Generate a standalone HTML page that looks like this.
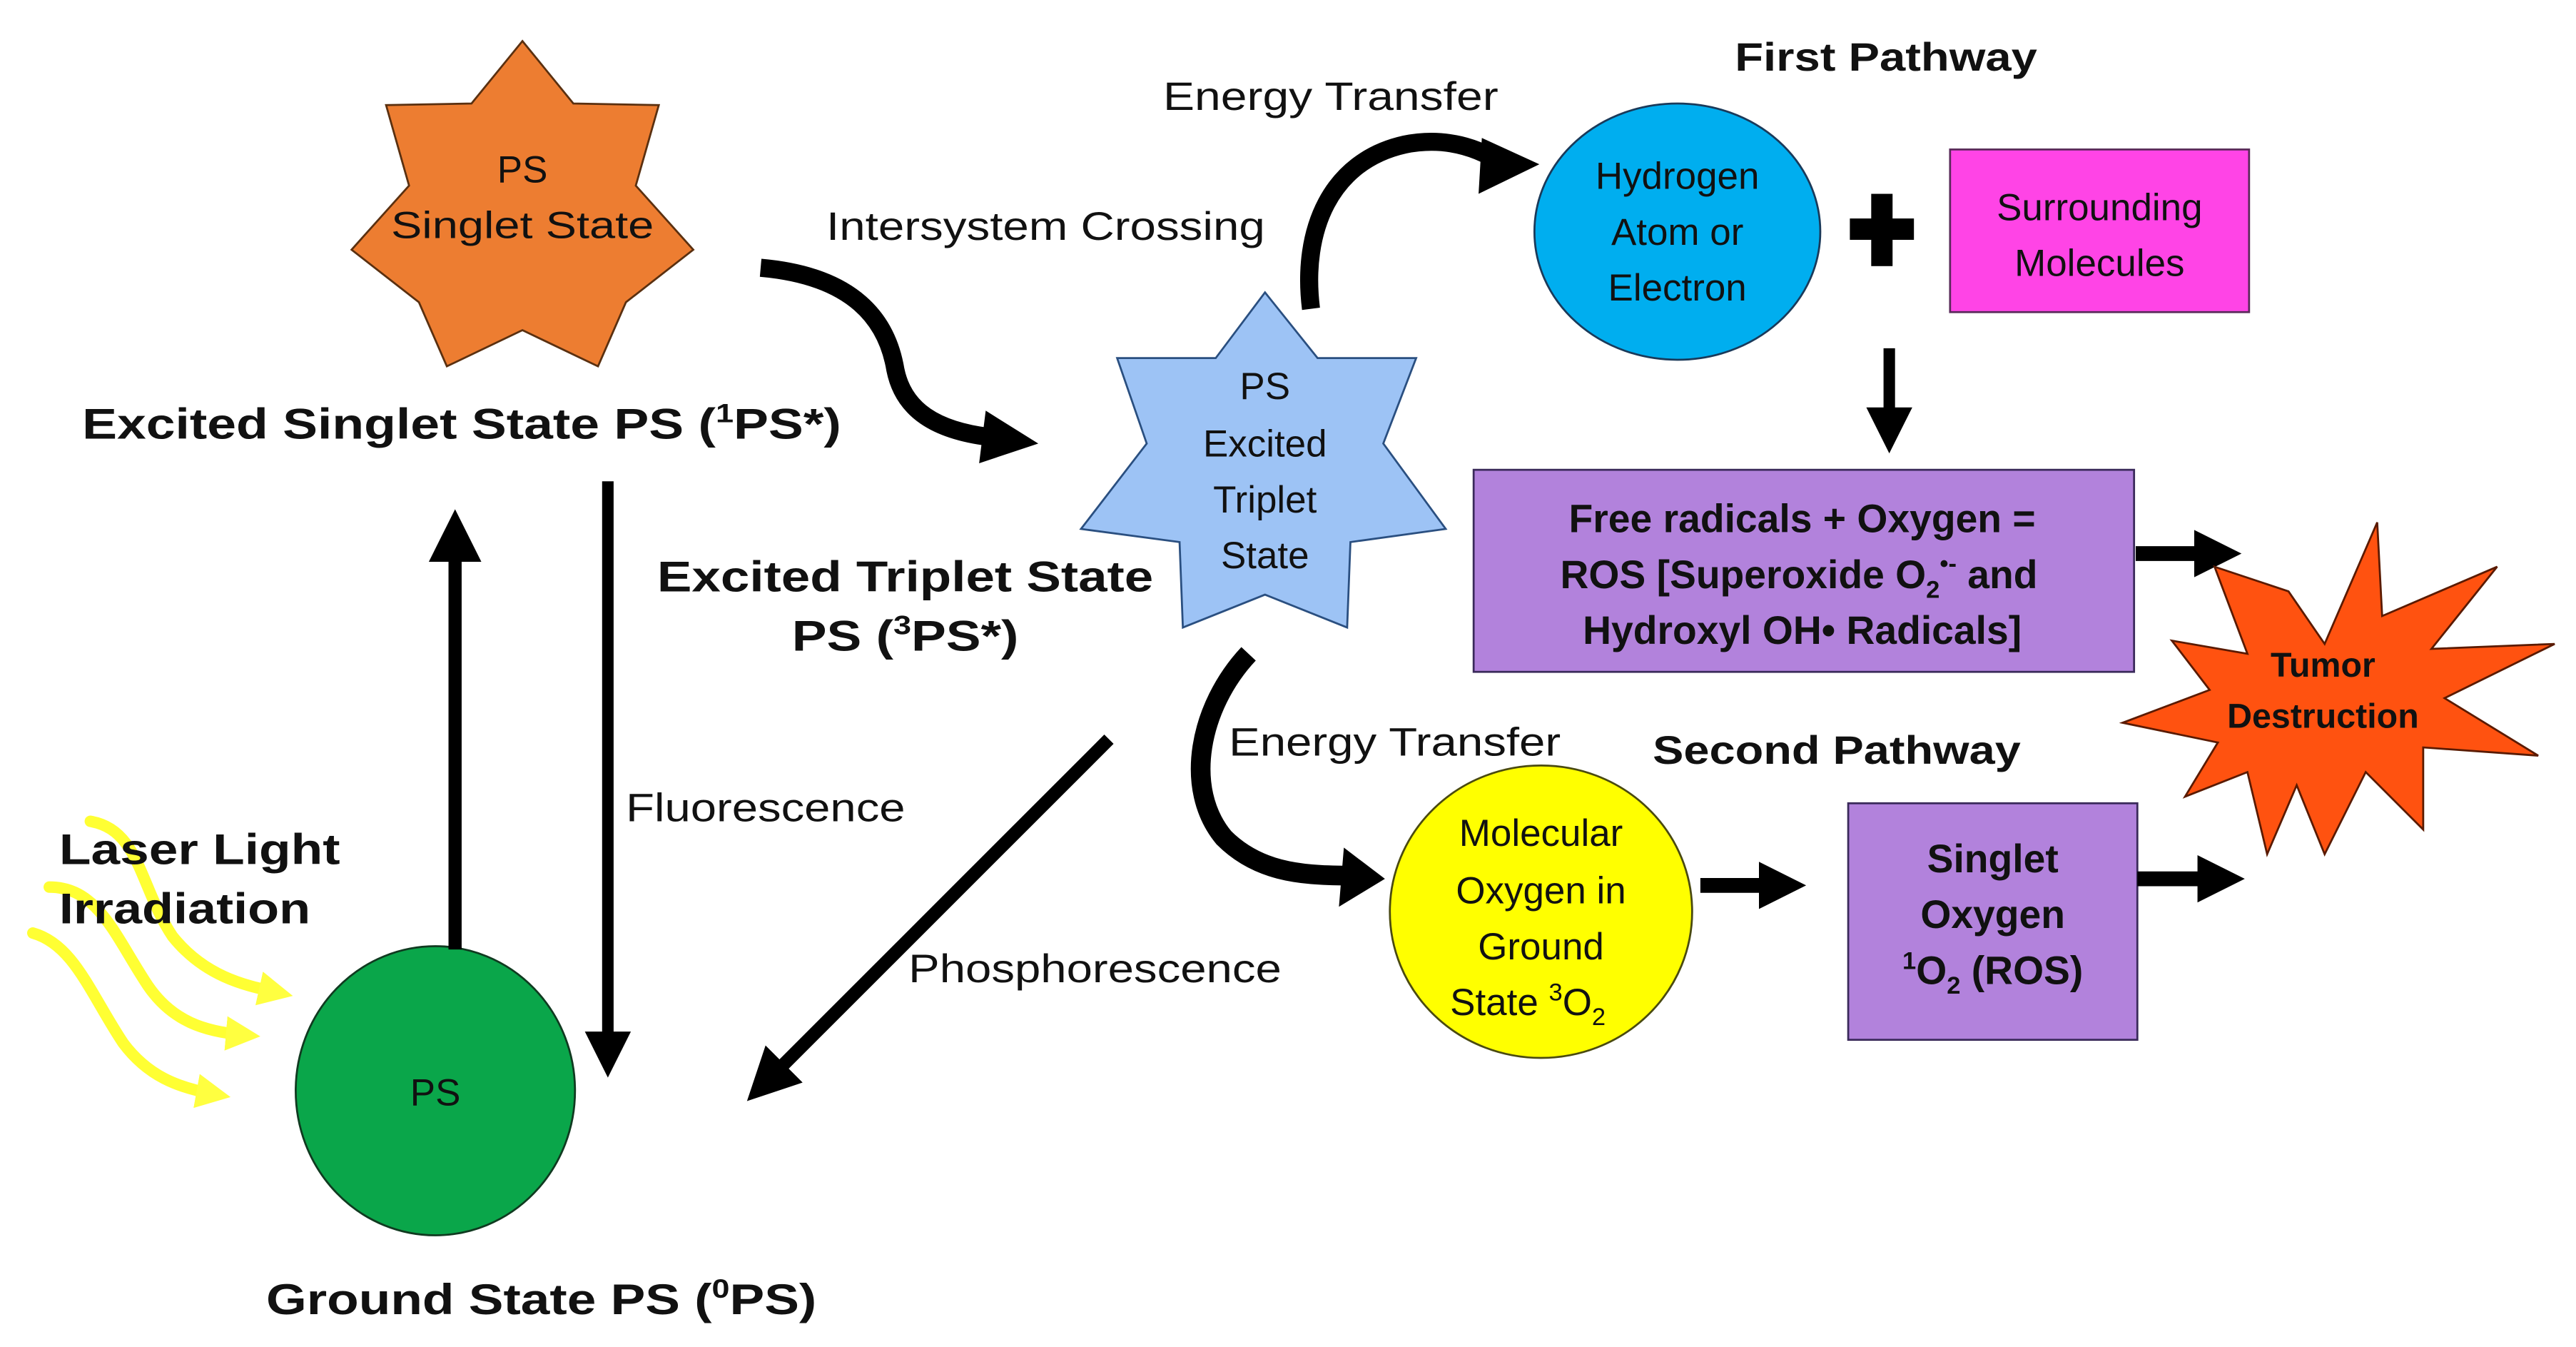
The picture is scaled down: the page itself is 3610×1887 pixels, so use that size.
<!DOCTYPE html>
<html><head><meta charset="utf-8"><style>
html,body{margin:0;padding:0;background:#fff;}
svg{display:block;}
text{font-family:"Liberation Sans",Arial,sans-serif;fill:#111;}
.b{font-weight:bold;}
</style></head><body>
<svg width="3610" height="1887" viewBox="0 0 1568 820" preserveAspectRatio="none" xmlns="http://www.w3.org/2000/svg">
<defs>
<marker id="ah" markerWidth="4" markerHeight="4" refX="2" refY="2" orient="auto" markerUnits="strokeWidth">
<path d="M0,0 L4,2 L0,4 z" fill="#000"/></marker>
<marker id="ah2" markerWidth="3.2" markerHeight="3.2" refX="1.6" refY="1.6" orient="auto" markerUnits="strokeWidth">
<path d="M0,0 L3.2,1.6 L0,3.2 z" fill="#000"/></marker>
<marker id="ay" markerWidth="3" markerHeight="3" refX="1.5" refY="1.5" orient="auto" markerUnits="strokeWidth">
<path d="M0,0 L3,1.5 L0,3 z" fill="#ffff40"/></marker>
</defs>

<!-- laser wavy arrows -->
<g fill="none" stroke="#ffff33" stroke-width="7" stroke-linecap="round">
<path d="M55,500 C85,505 85,540 105,570 C125,595 150,600 168,604" marker-end="url(#ay)"/>
<path d="M30,540 C60,540 70,570 90,600 C105,622 125,628 148,630" marker-end="url(#ay)"/>
<path d="M20,568 C45,575 55,605 75,635 C90,655 108,662 130,666" marker-end="url(#ay)"/>
</g>

<!-- Orange heptagram -->
<polygon fill="#ed7d31" stroke="#5a3010" stroke-width="1.2" points="318,25 349,63 401,64 387,113 422,152 381,184 364,223 318,201 272,223 255,184 214,152 249,113 235,64 287,63"/>
<text x="318" y="111" font-size="23" text-anchor="middle">PS</text>
<text x="318" y="145" font-size="23" text-anchor="middle" textLength="160" lengthAdjust="spacingAndGlyphs">Singlet State</text>

<!-- Blue heptagram -->
<polygon fill="#9dc3f5" stroke="#2a4f80" stroke-width="1.2" points="770,178 802,218 862,218 842,270 880,322 822,330 820,382 770,362 720,382 718,330 658,322 698,270 680,218 740,218"/>
<text x="770" y="243" font-size="23" text-anchor="middle">PS</text>
<text x="770" y="278" font-size="23" text-anchor="middle">Excited</text>
<text x="770" y="312" font-size="23" text-anchor="middle">Triplet</text>
<text x="770" y="346" font-size="23" text-anchor="middle">State</text>

<!-- labels -->
<text class="b" x="50" y="267" font-size="26" textLength="462" lengthAdjust="spacingAndGlyphs">Excited Singlet State PS (<tspan font-size="16" dy="-10">1</tspan><tspan dy="10">PS*)</tspan></text>
<text x="503" y="146" font-size="24" textLength="267" lengthAdjust="spacingAndGlyphs">Intersystem Crossing</text>
<text x="708" y="67" font-size="24" textLength="204" lengthAdjust="spacingAndGlyphs">Energy Transfer</text>
<text class="b" x="1056" y="43" font-size="24" textLength="184" lengthAdjust="spacingAndGlyphs">First Pathway</text>
<text class="b" x="400" y="360" font-size="26" textLength="302" lengthAdjust="spacingAndGlyphs">Excited Triplet State</text>
<text class="b" x="482" y="396" font-size="26" textLength="138" lengthAdjust="spacingAndGlyphs">PS (<tspan font-size="16" dy="-10">3</tspan><tspan dy="10">PS*)</tspan></text>
<text x="748" y="460" font-size="24" textLength="202" lengthAdjust="spacingAndGlyphs">Energy Transfer</text>
<text class="b" x="1006" y="465" font-size="24" textLength="224" lengthAdjust="spacingAndGlyphs">Second Pathway</text>
<text x="381" y="500" font-size="24" textLength="170" lengthAdjust="spacingAndGlyphs">Fluorescence</text>
<text x="553" y="598" font-size="24" textLength="227" lengthAdjust="spacingAndGlyphs">Phosphorescence</text>
<text class="b" x="162" y="800" font-size="26" textLength="335" lengthAdjust="spacingAndGlyphs">Ground State PS (<tspan font-size="16" dy="-10">0</tspan><tspan dy="10">PS)</tspan></text>
<text class="b" x="36" y="526" font-size="26" textLength="171" lengthAdjust="spacingAndGlyphs">Laser Light</text>
<text class="b" x="36" y="562" font-size="26" textLength="153" lengthAdjust="spacingAndGlyphs">Irradiation</text>

<!-- Hydrogen circle -->
<ellipse cx="1021" cy="141" rx="87" ry="78" fill="#00aeef" stroke="#1a3a5a" stroke-width="1.2"/>
<text x="1021" y="115" font-size="23" text-anchor="middle">Hydrogen</text>
<text x="1021" y="149" font-size="23" text-anchor="middle">Atom or</text>
<text x="1021" y="183" font-size="23" text-anchor="middle">Electron</text>

<!-- plus -->
<rect x="1139" y="118" width="13" height="44" fill="#000"/>
<rect x="1126" y="133" width="39" height="13" fill="#000"/>

<!-- magenta -->
<rect x="1187" y="91" width="182" height="99" fill="#ff44e6" stroke="#5a2a5a" stroke-width="1.2"/>
<text x="1278" y="134" font-size="23" text-anchor="middle">Surrounding</text>
<text x="1278" y="168" font-size="23" text-anchor="middle">Molecules</text>

<!-- down arrow -->
<line x1="1150" y1="212" x2="1150" y2="262" stroke="#000" stroke-width="7" marker-end="url(#ah)"/>

<!-- purple 1 -->
<rect x="897" y="286" width="402" height="123" fill="#b282dc" stroke="#3a2a5a" stroke-width="1.2"/>
<text class="b" x="1097" y="324" font-size="24" text-anchor="middle">Free radicals + Oxygen =</text>
<text class="b" x="1095" y="358" font-size="24" text-anchor="middle">ROS  [Superoxide O<tspan font-size="15" dy="6">2</tspan><tspan font-size="15" dy="-16">•-</tspan><tspan dy="10"> and</tspan></text>
<text class="b" x="1097" y="392" font-size="24" text-anchor="middle">Hydroxyl OH• Radicals]</text>

<line x1="1300" y1="337" x2="1350" y2="337" stroke="#000" stroke-width="9" marker-end="url(#ah2)"/>

<!-- tumor starburst -->
<polygon fill="#ff5210" stroke="#5a1a00" stroke-width="1.2" points="1393,360 1415,392 1447,318 1450,375 1520,345 1480,395 1555,392 1488,425 1545,460 1475,455 1475,505 1440,470 1415,520 1398,478 1380,520 1368,470 1330,485 1350,452 1292,440 1345,420 1322,390 1368,398 1348,345"/>
<text class="b" x="1414" y="412" font-size="21" text-anchor="middle">Tumor</text>
<text class="b" x="1414" y="443" font-size="21" text-anchor="middle">Destruction</text>

<!-- yellow circle -->
<ellipse cx="938" cy="555" rx="92" ry="89" fill="#ffff00" stroke="#4a4a10" stroke-width="1.2"/>
<text x="938" y="515" font-size="23" text-anchor="middle">Molecular</text>
<text x="938" y="550" font-size="23" text-anchor="middle">Oxygen in</text>
<text x="938" y="584" font-size="23" text-anchor="middle">Ground</text>
<text x="930" y="618" font-size="23" text-anchor="middle">State <tspan font-size="15" dy="-9">3</tspan><tspan dy="9">O</tspan><tspan font-size="15" dy="6">2</tspan></text>

<line x1="1035" y1="539" x2="1085" y2="539" stroke="#000" stroke-width="9" marker-end="url(#ah2)"/>

<!-- purple 2 -->
<rect x="1125" y="489" width="176" height="144" fill="#b282dc" stroke="#3a2a5a" stroke-width="1.2"/>
<text class="b" x="1213" y="531" font-size="24" text-anchor="middle">Singlet</text>
<text class="b" x="1213" y="565" font-size="24" text-anchor="middle">Oxygen</text>
<text class="b" x="1213" y="599" font-size="24" text-anchor="middle"><tspan font-size="15" dy="-9">1</tspan><tspan dy="9">O</tspan><tspan font-size="15" dy="6">2</tspan><tspan dy="-6"> (ROS)</tspan></text>

<line x1="1301" y1="535" x2="1352" y2="535" stroke="#000" stroke-width="9" marker-end="url(#ah2)"/>

<!-- green circle -->
<ellipse cx="265" cy="664" rx="85" ry="88" fill="#0aa64a" stroke="#103a20" stroke-width="1.2"/>
<text x="265" y="673" font-size="23" text-anchor="middle">PS</text>

<!-- vertical arrows -->
<line x1="277" y1="578" x2="277" y2="326" stroke="#000" stroke-width="8" marker-end="url(#ah)"/>
<line x1="370" y1="293" x2="370" y2="642" stroke="#000" stroke-width="7" marker-end="url(#ah)"/>
<!-- phosphorescence -->
<line x1="675" y1="450" x2="466" y2="659" stroke="#000" stroke-width="8" marker-end="url(#ah)"/>

<!-- intersystem crossing curved arrow -->
<path d="M463,163 C520,168 540,195 545,225 C550,250 570,262 602,266" fill="none" stroke="#000" stroke-width="11"/>
<polygon points="600,250 632,270 596,282" fill="#000"/>

<!-- top energy transfer arc -->
<path d="M798,188 C792,140 810,98 855,88 C880,83 900,90 915,100" fill="none" stroke="#000" stroke-width="11"/>
<polygon points="902,84 937,100 900,118" fill="#000"/>

<!-- lower energy transfer arc -->
<path d="M760,398 C730,430 720,480 745,510 C765,530 790,533 820,533" fill="none" stroke="#000" stroke-width="12"/>
<polygon points="818,516 843,535 815,552" fill="#000"/>
</svg>
</body></html>
